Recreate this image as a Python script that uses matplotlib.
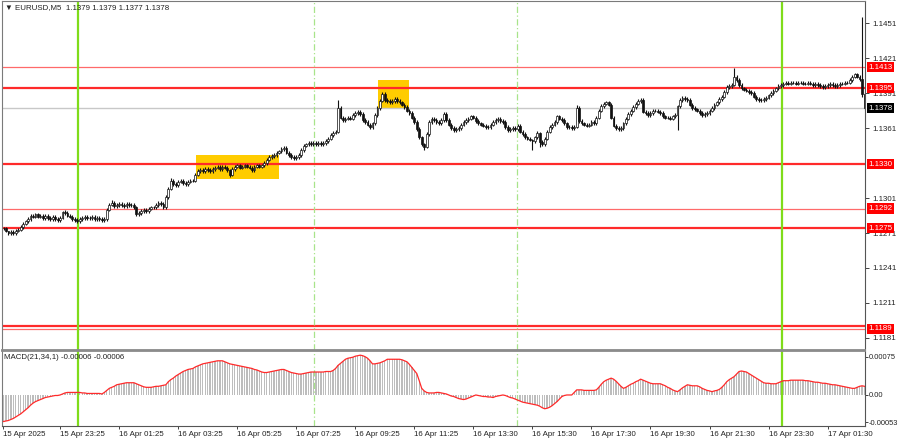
import matplotlib
matplotlib.use('Agg')
import matplotlib.pyplot as plt
import matplotlib.transforms as mtrans
from matplotlib.patches import Rectangle
import numpy as np

plt.rcParams['font.family'] = ['Liberation Sans', 'DejaVu Sans']

# ---------------- data (EURUSD M5, closes as 1.xxxx * 10000 - 10000, e.g. 1275 = 1.1275) ----------------
closes_e4 = [
    1275, 1273, 1271, 1272, 1271, 1273, 1274, 1276, 1279, 1281,
    1283, 1286, 1285, 1287, 1285, 1286, 1284, 1286, 1284, 1283,
    1285, 1283, 1282, 1284, 1289, 1288, 1286, 1285, 1283, 1282,
    1281, 1283, 1284, 1285, 1284, 1284, 1285, 1283, 1284, 1283,
    1282, 1283, 1291, 1295, 1297, 1294, 1295, 1296, 1295, 1294,
    1296, 1295, 1295, 1293, 1287, 1288, 1290, 1291, 1290, 1292,
    1293, 1293, 1295, 1297, 1296, 1293, 1302, 1309, 1316, 1313,
    1312, 1315, 1316, 1314, 1313, 1315, 1316, 1316, 1321, 1324,
    1325, 1324, 1326, 1325, 1324, 1326, 1327, 1328, 1326, 1328,
    1327, 1325, 1321, 1326, 1328, 1329, 1327, 1328, 1329, 1328,
    1327, 1325, 1328, 1329, 1328, 1329, 1331, 1334, 1336, 1337,
    1338, 1340, 1341, 1343, 1344, 1340, 1338, 1336, 1335, 1336,
    1338, 1342, 1346, 1347, 1348, 1347, 1348, 1347, 1348, 1347,
    1348, 1350, 1352, 1355, 1357, 1358, 1378, 1370, 1368, 1369,
    1370, 1369, 1372, 1374, 1375, 1373, 1368, 1366, 1364, 1362,
    1365, 1372, 1378, 1384, 1390, 1385, 1384, 1383, 1384, 1386,
    1384, 1383, 1381, 1379, 1376, 1374, 1370, 1366, 1360, 1353,
    1347, 1345, 1356, 1366, 1369, 1368, 1366, 1365, 1368, 1373,
    1368, 1364, 1361, 1359, 1360, 1361, 1364, 1366, 1368, 1369,
    1371, 1370, 1367, 1365, 1364, 1363, 1362, 1362, 1364, 1366,
    1368, 1369, 1367, 1366, 1362, 1359, 1360, 1361, 1360, 1363,
    1358, 1356, 1353, 1352, 1351, 1350, 1353, 1357, 1349, 1347,
    1352, 1358, 1362, 1364, 1366, 1371, 1369, 1368, 1365, 1362,
    1362, 1361, 1362, 1378, 1367, 1365, 1364, 1363, 1364, 1366,
    1365, 1370, 1376, 1380, 1382, 1383, 1381, 1370, 1363, 1361,
    1360, 1361, 1365, 1369, 1373, 1376, 1379, 1382, 1384, 1385,
    1375, 1374, 1372, 1374, 1376, 1376, 1375, 1374, 1371, 1370,
    1370, 1369, 1371, 1372, 1380, 1385, 1387, 1386, 1385, 1381,
    1378, 1377, 1376, 1374, 1372, 1373, 1374, 1376, 1378, 1381,
    1383, 1386, 1388, 1392, 1396, 1397, 1398, 1405, 1402, 1398,
    1395, 1394, 1393, 1392, 1391, 1388, 1386, 1385, 1385, 1386,
    1387, 1389, 1391, 1393, 1395, 1397, 1398, 1399, 1400, 1399,
    1400, 1400, 1399, 1400, 1400, 1399, 1399, 1400, 1399, 1398,
    1399, 1398, 1397, 1396, 1397, 1398, 1399, 1398, 1397, 1398,
    1399, 1399, 1400, 1400, 1402, 1405, 1407, 1405, 1403, 1390,
    1378,
]
# bars whose high / low reach notably beyond the body: bar -> (high, low), same units
wick_extremes = {
    2: (1273, 1269), 24: (1290, 1283), 44: (1299, 1294), 68: (1318, 1308),
    92: (1326, 1319), 136: (1385, 1357), 154: (1392, 1383), 171: (1348, 1342),
    215: (1352, 1342), 218: (1358, 1345), 233: (1381, 1361), 274: (1381, 1359),
    297: (1412.5, 1397), 349: (1456, 1388),
}
macd_e5 = [
    -52, -51, -50, -48, -46, -43, -40, -37, -33, -29,
    -25, -20, -16, -13, -11, -9, -7, -5, -4, -3,
    -2, -1, -1, 0, 2, 4, 5, 5, 5, 5,
    5, 5, 4, 4, 3, 3, 3, 3, 3, 3,
    2, 5, 9, 13, 15, 17, 20, 21, 22, 23,
    24, 24, 24, 24, 22, 20, 18, 16, 15, 15,
    15, 16, 17, 17, 18, 19, 20, 26, 30, 33,
    37, 40, 43, 46, 48, 50, 51, 52, 55, 57,
    59, 61, 62, 63, 64, 65, 66, 67, 67, 67,
    65, 63, 61, 60, 59, 58, 57, 56, 55, 54,
    53, 52, 50, 49, 47, 45, 44, 44, 45, 46,
    47, 48, 49, 50, 50, 48, 46, 44, 43, 42,
    41, 41, 42, 43, 44, 45, 45, 45, 45, 45,
    45, 46, 46, 46, 48, 52, 58, 62, 66, 70,
    72, 73, 74, 76, 77, 78, 77, 75, 72, 67,
    61, 61, 62, 63, 65, 67, 70, 70, 70, 70,
    70, 70, 69, 67, 65, 60, 54, 48, 42, 28,
    13, 8, 5, 4, 4, 4, 5, 5, 4, 3,
    2, 0, -2, -3, -5, -7, -8, -9, -8, -6,
    -4, -2, 0, -1, -2, -3, -3, -4, -4, -5,
    -3, -2, -1, 0, -1, -3, -5, -6, -8, -10,
    -12, -14, -15, -16, -17, -18, -19, -20, -22, -25,
    -27, -26, -24, -21, -17, -13, -8, -3, -1, 0,
    0, 0, 5, 10, 10, 10, 9, 9, 9, 9,
    9, 10, 15, 21, 26, 29, 31, 33, 31, 27,
    22, 17, 13, 15, 18, 21, 23, 26, 28, 31,
    29, 27, 25, 23, 22, 22, 22, 22, 20, 18,
    15, 13, 10, 8, 6.5, 10, 14, 17, 20, 19,
    18, 18, 18, 16, 13, 11, 9, 8, 6.5, 8,
    9, 11, 15, 20, 26, 30, 33, 36, 41, 46,
    47, 46, 45, 42, 39, 36, 33, 30, 27, 24,
    23, 23, 22, 22, 22, 24, 26, 28, 28, 28,
    29, 29, 29, 29, 29, 29, 28, 28, 27, 26,
    25, 25, 24, 23, 23, 22, 21, 20, 20, 19,
    18, 17, 16, 15, 14, 13, 13, 15, 17, 18,
    17,
]
levels = [1.1413, 1.1395, 1.1330, 1.1292, 1.1275, 1.1191, 1.1189]
level_thick = [False, True, True, False, True, True, False]
level_labels = ['1.1413', '1.1395', '1.1330', '1.1292', '1.1275', '', '1.1189']
current_price = 1.1378
price_ticks = [1.1451, 1.1421, 1.1391, 1.1361, 1.1301, 1.1271, 1.1241, 1.1211, 1.1181]
macd_ticks = [0.00075, 0.0, -0.00053]
macd_tick_labels = ['0.00075', '0.00', '-0.00053']
time_bars = [-0.4, 23, 47, 71, 95, 119, 143, 167, 191, 215, 239, 263, 287, 311, 335]
time_labels = ['15 Apr 2025', '15 Apr 23:25', '16 Apr 01:25', '16 Apr 03:25', '16 Apr 05:25',
               '16 Apr 07:25', '16 Apr 09:25', '16 Apr 11:25', '16 Apr 13:30', '16 Apr 15:30',
               '16 Apr 17:30', '16 Apr 19:30', '16 Apr 21:30', '16 Apr 23:30', '17 Apr 01:30']
day_sep_bars = [30.3, 316.5]        # midnight markers
session_bars = [126.2, 208.7]       # session markers
# highlighted zones: (first bar, last bar, low price, high price)
zones = [(78.3, 111.9, 1.13173, 1.13379), (152.2, 164.8, 1.13781, 1.14021)]
header = '\u25BC EURUSD,M5  1.1379 1.1379 1.1377 1.1378'
macd_header = 'MACD(21,34,1) -0.00006 -0.00006'

# ---------------- derived ----------------
c = 1.0 + np.array(closes_e4, dtype=float) / 10000
o = np.r_[c[0], c[:-1]]
hi = np.maximum(o, c) + 0.00015
lo = np.minimum(o, c) - 0.00015
for k, (h, l) in wick_extremes.items():
    hi[k] = 1.0 + h / 10000
    lo[k] = 1.0 + l / 10000
idx = np.arange(len(c))
macd = np.array(macd_e5, dtype=float) * 1e-5

# ---------------- figure ----------------
W, H = 900, 441
fig = plt.figure(figsize=(W / 100, H / 100), dpi=100)
fig.patch.set_facecolor('white')


def box(l, t, r, b):
    return [l / W, 1 - b / H, (r - l) / W, (b - t) / H]


ax = fig.add_axes(box(2, 1, 865, 350))
ax2 = fig.add_axes(box(2, 351, 865, 426), sharex=ax)
FS = 5.7

# zones
for b0, b1, p0, p1 in zones:
    ax.add_patch(Rectangle((b0, p0), b1 - b0, p1 - p0, facecolor='#ffcc00',
                           edgecolor='none', zorder=1))

# current price line
ax.axhline(current_price, color='#c8c8c8', lw=1.0, zorder=1.5)

# levels
for lv, thick in zip(levels, level_thick):
    ax.axhline(lv, color='#ff2a2a' if thick else '#ff6a6a',
               lw=1.6 if thick else 0.9, zorder=2)

# vertical markers on both panels
for a in (ax, ax2):
    for b in day_sep_bars:
        a.axvline(b, color='#7fdc1a', lw=1.6, zorder=2.5)
    for b in session_bars:
        a.axvline(b, color='#a8e48a', lw=0.9, ls=(0, (5, 2, 1, 2)), zorder=2.5)

# candles
ax.vlines(idx, lo, hi, color='#111111', lw=0.8, zorder=3)
bull = c >= o
ax.bar(idx[bull], (c - o)[bull], bottom=o[bull], width=0.72, facecolor='white',
       edgecolor='#111111', lw=0.5, zorder=4)
ax.bar(idx[~bull], (c - o)[~bull], bottom=o[~bull], width=0.72, facecolor='#111111',
       edgecolor='#111111', lw=0.5, zorder=4)

ax.set_xlim(-0.61, 350.2)
ax.set_ylim(1.11707, 1.14699)

# right axis
ax.yaxis.tick_right()
ax.set_yticks(price_ticks)
ax.set_yticklabels([f'{t:.4f}' for t in price_ticks])
ax.tick_params(axis='y', labelsize=FS, length=3, pad=2, colors='#222222', width=0.6)
ax.tick_params(axis='x', bottom=False, labelbottom=False)

trans = mtrans.blended_transform_factory(ax.transAxes, ax.transData)
for lv, lab in zip(levels, level_labels):
    if not lab:
        continue
    ax.text(1.004, lv, lab, transform=trans, ha='left', va='center',
            fontsize=FS, color='white', clip_on=False, zorder=10,
            bbox=dict(boxstyle='square,pad=0.2', fc='#ff0000', ec='none'))
ax.text(1.004, current_price, f'{current_price:.4f}', transform=trans, ha='left',
        va='center', fontsize=FS, color='white', clip_on=False, zorder=10,
        bbox=dict(boxstyle='square,pad=0.2', fc='black', ec='none'))

for s in ('left', 'top'):
    ax.spines[s].set_color('#7a7a7a')
    ax.spines[s].set_linewidth(0.8)
ax.spines['right'].set_color('#555555')
ax.spines['right'].set_linewidth(0.8)
ax.spines['bottom'].set_color('#8a8a8a')
ax.spines['bottom'].set_linewidth(1.3)

# MACD panel
ax2.bar(idx, macd, width=0.55, color='#bdbdbd', zorder=2)
ax2.plot(idx, macd, color='#ff2a2a', lw=0.9, zorder=3)
ax2.set_ylim(-0.000608, 0.000862)
ax2.yaxis.tick_right()
ax2.set_yticks(macd_ticks)
ax2.set_yticklabels(macd_tick_labels)
ax2.tick_params(axis='y', labelsize=5.4, length=2, pad=1, colors='#222222', width=0.6)
ax2.set_xticks(time_bars)
ax2.set_xticklabels(time_labels, ha='left')
ax2.tick_params(axis='x', labelsize=FS, length=2.5, pad=0.8, colors='#222222', width=0.6)
ax2.spines['top'].set_color('#8a8a8a')
ax2.spines['top'].set_linewidth(1.3)
ax2.spines['left'].set_color('#7a7a7a')
ax2.spines['left'].set_linewidth(0.8)
for s in ('right', 'bottom'):
    ax2.spines[s].set_color('#555555')
    ax2.spines[s].set_linewidth(0.8)

fig.text(5 / W, 1 - 7.5 / H, header, fontsize=FS, va='center', ha='left', color='#222222')
fig.text(4 / W, 1 - 357.5 / H, macd_header, fontsize=FS, va='center', ha='left', color='#222222')

fig.savefig('out.png', dpi=100, facecolor='white')
